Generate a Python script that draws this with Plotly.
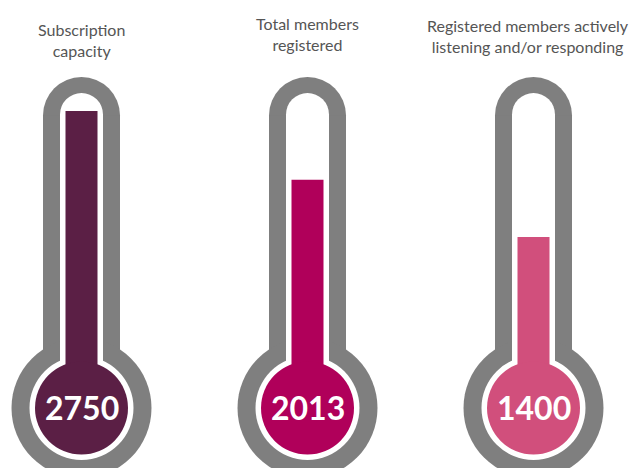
import plotly.graph_objects as go


# ---------------------------------------------------
# Data
# ---------------------------------------------------

labels = [
    "Subscription<br>capacity",
    "Total members<br>registered",
    "Registered members actively<br>listening and/or responding",
]
members = [2750, 2013, 1400]
fill_colors = ["#5b1f45", "#b0005a", "#d14f7c"]


# ---------------------------------------------------
# Geometry (pixels, as seen in the page)
# ---------------------------------------------------

W, H = 639, 468
PAGE = 8               # default body margin of the html page
FW, FH = W - 2 * PAGE, H - PAGE
SPACING = 226          # px between thermometer centres
FIRST = 81.5           # px centre of first thermometer
BULB_Y = 408           # px centre of bulb
ZERO_Y = 368           # px where value 0 sits
PX_PER_UNIT = 0.0935   # px per member

GRAY = "#7f7f7f"
title_y = [40, 34, 36]


def xc(i, dx=0):
    # category index plus a pixel offset
    return i + dx / SPACING


def yp(p):
    # page pixel row -> paper coordinate
    return 1 - (p - PAGE) / FH


def circle(i, cy, r, color, layer="below"):
    return dict(
        type="circle", xref="x", yref="paper", layer=layer,
        x0=xc(i, -r), x1=xc(i, r), y0=yp(cy + r), y1=yp(cy - r),
        fillcolor=color, line_width=0,
    )


def rect(i, half, top, bottom, color):
    return dict(
        type="rect", xref="x", yref="paper", layer="below",
        x0=xc(i, -half), x1=xc(i, half), y0=yp(bottom), y1=yp(top),
        fillcolor=color, line_width=0,
    )


shapes = []
for i, c in enumerate(fill_colors):
    # grey outline
    shapes.append(circle(i, 115.5, 38.5, GRAY))
    shapes.append(rect(i, 38.5, 115.5, 380, GRAY))
    shapes.append(circle(i, BULB_Y, 70, GRAY))
    # white inside
    shapes.append(circle(i, 114.5, 21.5, "white"))
    shapes.append(rect(i, 21.5, 114.5, 400, "white"))
    shapes.append(circle(i, BULB_Y, 52, "white"))
    # coloured bulb
    shapes.append(circle(i, BULB_Y, 46.5, c, layer="above"))

fig = go.Figure(
    go.Bar(
        x=[0, 1, 2],
        y=members,
        width=32 / SPACING,
        marker=dict(color=fill_colors, line_width=0),
        hoverinfo="skip",
    )
)

annotations = []
for i, (lab, v) in enumerate(zip(labels, members)):
    # last title is wide: pin it to the right edge so it stays visible
    last = i == len(labels) - 1
    annotations.append(dict(
        x=1 if last else i, xref="paper" if last else "x",
        y=yp(title_y[i]), yref="paper",
        text=lab, showarrow=False,
        xanchor="right" if last else "center", yanchor="middle",
        font=dict(family="Lato", size=16, color="#555555"),
    ))
    annotations.append(dict(
        x=i, y=yp(BULB_Y - 1), xref="x", yref="paper",
        text="<b>%d</b>" % v, showarrow=False,
        xanchor="center", yanchor="middle",
        font=dict(family="Lato", size=32, color="white"),
    ))

fig.update_layout(
    width=FW,
    height=FH,
    margin=dict(l=0, r=0, t=0, b=0),
    paper_bgcolor="white",
    plot_bgcolor="white",
    showlegend=False,
    shapes=shapes,
    annotations=annotations,
    xaxis=dict(
        range=[xc(0, PAGE - FIRST), xc(0, PAGE + FW - FIRST)],
        visible=False, fixedrange=True,
    ),
    yaxis=dict(
        range=[(ZERO_Y - PAGE - FH) / PX_PER_UNIT, (ZERO_Y - PAGE) / PX_PER_UNIT],
        visible=False, fixedrange=True,
    ),
)

fig.write_html("out.html")
